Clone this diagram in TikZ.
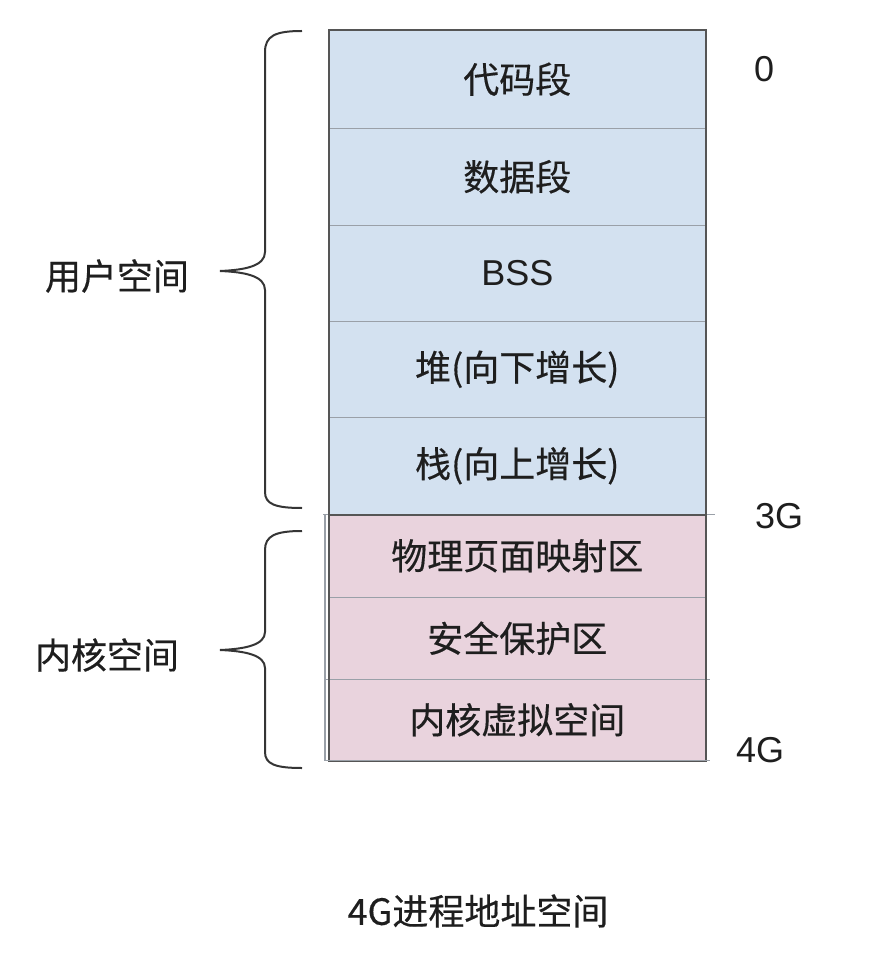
\documentclass[tikz,border=0pt]{standalone}
\usepackage{fontspec}
\setmainfont{Liberation Sans}
\newfontfamily\cjk[FakeBold=0.4]{Noto Sans CJK SC}
\definecolor{userfill}{HTML}{D3E1F0}
\definecolor{kernfill}{HTML}{E9D3DD}
\definecolor{txt}{HTML}{1E1E1E}
\definecolor{edge}{HTML}{555555}
\definecolor{divider}{HTML}{9AA0A8}
\begin{document}
\begin{tikzpicture}[x=0.75pt,y=-0.75pt,
  seg/.style={rectangle,anchor=north west,inner sep=0pt,minimum width=282pt,text=txt,font=\cjk\fontsize{27pt}{30pt}\selectfont},
  userseg/.style={seg,fill=userfill},
  kernseg/.style={seg,fill=kernfill},
  lbl/.style={text=txt,inner sep=0pt,font=\fontsize{27pt}{30pt}\selectfont},
  cjklbl/.style={text=txt,inner sep=0pt,font=\cjk\fontsize{27pt}{30pt}\selectfont},
  divline/.style={draw=divider,line width=1.1pt},
  brace/.style={draw=txt!90,line width=1.5pt}]
\useasboundingbox (0,0) rectangle (878,966);
% user segments
\node[userseg,minimum height=73.5pt] (code) at (329,30) {\raisebox{-2pt}{代码段}};
\node[userseg,minimum height=72.75pt] (data) at (329,128) {\raisebox{-2pt}{数据段}};
\node[userseg,minimum height=72pt,font=\fontsize{27pt}{30pt}\selectfont] (bss) at (329,225) {\raisebox{-2pt}{BSS}};
\node[userseg,minimum height=72pt] (heap) at (329,321) {\raisebox{-2pt}{堆(向下增长)}};
\node[userseg,minimum height=72.75pt] (stack) at (329,417) {\raisebox{-2pt}{栈(向上增长)}};
% kernel segments
\node[kernseg,minimum height=62.25pt] (phys) at (329,514) {\raisebox{-2pt}{物理页面映射区}};
\node[kernseg,minimum height=61.5pt] (prot) at (329,597) {\raisebox{-2pt}{安全保护区}};
\node[kernseg,minimum height=60.75pt] (kvirt) at (329,679) {\raisebox{-2pt}{内核虚拟空间}};
% dividers
\draw[divline] (code.south west) -- (code.south east);
\draw[divline] (data.south west) -- (data.south east);
\draw[divline] (bss.south west) -- (bss.south east);
\draw[divline] (heap.south west) -- (heap.south east);
\draw[divline] ([xshift=-4.5pt]stack.south west) -- ([xshift=7pt]stack.south east);
\draw[divline] (phys.south west) -- (phys.south east);
\draw[divline] ([xshift=-3pt]prot.south west) -- ([xshift=3pt]prot.south east);
% outer borders
\draw[draw=edge,line width=1.5pt] (code.north west) rectangle (stack.south east);
\draw[draw=edge,line width=1.5pt] (phys.north west) -- (kvirt.south west) -- (kvirt.south east) -- (phys.north east);
\draw[draw=divider,line width=1pt] ([xshift=-3pt]phys.north west) -- ([xshift=-3pt]kvirt.south west);
\draw[draw=divider,line width=1pt] ([xshift=-3pt]kvirt.south west) -- ([xshift=3pt]kvirt.south east);
% address labels
\node[lbl] (a0) at (764,69) {0};
\node[lbl] (a3) at (779,516) {3G};
\node[lbl] (a4) at (760,750) {4G};
% side labels
\node[cjklbl] (user) at (117,276) {用户空间};
\node[cjklbl] (kern) at (107,655) {内核空间};
\node[cjklbl] (title) at (478,911) {4G进程地址空间};
% braces
\coordinate (ub1) at (302,31);
\coordinate (ubt) at (220,271);
\coordinate (ub2) at (302,508);
\draw[brace] (ub1) .. controls (275,31) and (265,36) .. (265,52)
  -- (265,252) .. controls (265,266) and (245,270) .. (ubt)
  .. controls (245,272) and (265,276) .. (265,290)
  -- (265,492) .. controls (265,504) and (275,508) .. (ub2);
\coordinate (kb1) at (302,531);
\coordinate (kbt) at (220,650);
\coordinate (kb2) at (302,768);
\draw[brace] (kb1) .. controls (275,531) and (265,536) .. (265,550)
  -- (265,632) .. controls (265,645) and (245,649) .. (kbt)
  .. controls (245,651) and (265,655) .. (265,668)
  -- (265,752) .. controls (265,764) and (275,768) .. (kb2);
\end{tikzpicture}
\end{document}
